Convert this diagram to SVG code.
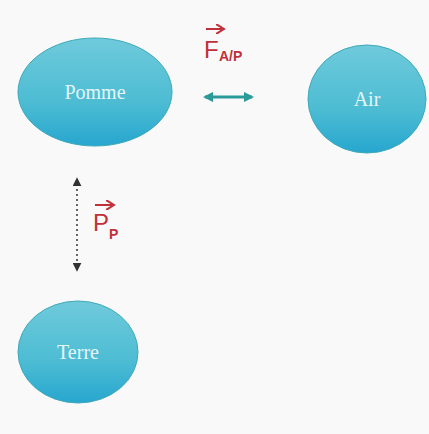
<svg xmlns="http://www.w3.org/2000/svg" width="429" height="434" viewBox="0 0 429 434">
<defs>
<linearGradient id="g" x1="0" y1="0" x2="0" y2="1">
<stop offset="0" stop-color="#6fcadb"/>
<stop offset="0.6" stop-color="#4cbcd3"/>
<stop offset="1" stop-color="#27a6cf"/>
</linearGradient>
<marker id="ta" viewBox="0 0 10 10" refX="8" refY="5" markerWidth="3.5" markerHeight="3.5" orient="auto-start-reverse">
<path d="M0,0 L10,5 L0,10 z" fill="#2a9a9a"/>
</marker>
<marker id="da" viewBox="0 0 10 10" refX="8" refY="5" markerWidth="6" markerHeight="6" orient="auto-start-reverse">
<path d="M0,0 L10,5 L0,10 z" fill="#333"/>
</marker>
<marker id="ra" viewBox="0 0 10 10" refX="6" refY="5" markerWidth="5" markerHeight="5" orient="auto">
<path d="M0,0 L8,5 L0,10" fill="none" stroke="#c0303a" stroke-width="2"/>
</marker>
</defs>
<style>
.node{fill:url(#g);stroke:#3fa9b8;stroke-width:1}
.lbl{font-family:"Liberation Serif",serif;font-size:20px;fill:#e6f6f8;text-anchor:middle}
.force{font-family:"Liberation Sans",sans-serif;fill:#c0303a}
</style>
<rect width="429" height="434" fill="#f9f9f9"/>
<g id="pomme">
<ellipse class="node" cx="95" cy="92" rx="77" ry="54"/>
<text class="lbl" x="95" y="99">Pomme</text>
</g>
<g id="air">
<ellipse class="node" cx="367" cy="99" rx="59" ry="54"/>
<text class="lbl" x="367" y="106">Air</text>
</g>
<g id="terre">
<ellipse class="node" cx="78" cy="352" rx="60" ry="51"/>
<text class="lbl" x="78" y="359">Terre</text>
</g>
<g id="connectors">
<line x1="205" y1="97" x2="252" y2="97" stroke="#2a9a9a" stroke-width="3" marker-start="url(#ta)" marker-end="url(#ta)"/>
<line x1="77" y1="179" x2="77" y2="270" stroke="#333" stroke-width="1.5" stroke-dasharray="2,3" marker-start="url(#da)" marker-end="url(#da)"/>
</g>
<g id="label-fap">
<path d="M206,29 L222,29" stroke="#c0303a" stroke-width="2" fill="none" marker-end="url(#ra)"/>
<text class="force" x="204" y="58" font-size="24">F</text>
<text class="force" x="219" y="61" font-size="14" font-weight="bold">A/P</text>
</g>
<g id="label-pp">
<path d="M95,205 L112,205" stroke="#c0303a" stroke-width="2" fill="none" marker-end="url(#ra)"/>
<text class="force" x="93" y="231" font-size="24">P</text>
<text class="force" x="109" y="239" font-size="14" font-weight="bold">P</text>
</g>
</svg>
